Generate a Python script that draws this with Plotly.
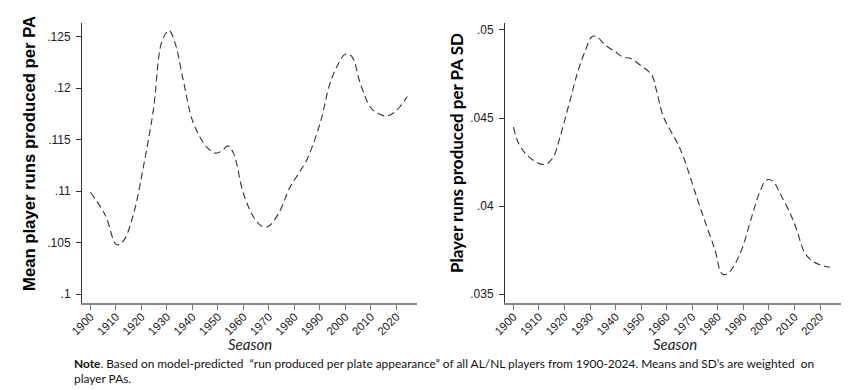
import plotly.graph_objects as go

# ---- data ----
years_mean = [1900, 1905.8, 1910.3, 1913, 1916.9, 1920.8, 1924.7, 1928, 1930.8, 1933.2, 1936.4,
              1940.4, 1945.6, 1948.9, 1951.5, 1953.9, 1956.1, 1960, 1964, 1967.2, 1969.8,
              1973.7, 1978.3, 1981.6, 1984.8, 1990.1, 1994, 1997.3, 1999.9, 2002.5, 2005.8,
              2009.7, 2012.3, 2016.2, 2018.8, 2021.4, 2024.3]
mean_rp = [0.1099, 0.1077, 0.1048, 0.1052, 0.1078, 0.1124, 0.1179, 0.1245, 0.1256, 0.1244, 0.1208,
           0.1166, 0.1143, 0.1137, 0.1139, 0.1144, 0.1137, 0.1098, 0.1075, 0.1066, 0.1066,
           0.1078, 0.1104, 0.1117, 0.1130, 0.1166, 0.1205, 0.1224, 0.1233, 0.1231, 0.1205,
           0.1182, 0.1176, 0.1173, 0.1176, 0.1182, 0.1192]

years_sd = [1900, 1902, 1905.2, 1910.4, 1913, 1915.7, 1918.3, 1922.2, 1925.4, 1928, 1930.7,
            1932.6, 1935.9, 1939.8, 1943, 1945.7, 1949.6, 1954.1, 1956.1, 1958.7, 1963.9,
            1966.5, 1970.4, 1974.3, 1978.9, 1981.5, 1983.5, 1986.1, 1989.3, 1993.3, 1996.5,
            1999.1, 2001.7, 2004.3, 2008.3, 2010.9, 2014.1, 2017.4, 2020, 2023.9]
sd_rp = [0.04448, 0.04357, 0.04291, 0.0424, 0.0424, 0.04281, 0.04395, 0.04603, 0.04773, 0.04877,
         0.04962, 0.04962, 0.04915, 0.04877, 0.04845, 0.04839, 0.04801, 0.04745, 0.0465, 0.04508,
         0.04366, 0.04281, 0.04111, 0.03941, 0.03751, 0.03619, 0.03613, 0.03657, 0.03751, 0.03941,
         0.04083, 0.04149, 0.0414, 0.04073, 0.0396, 0.03865, 0.03733, 0.03685, 0.03667, 0.03653]

x_ticks = [1900, 1910, 1920, 1930, 1940, 1950, 1960, 1970, 1980, 1990, 2000, 2010, 2020]
y1_ticks = [0.1, 0.105, 0.11, 0.115, 0.12, 0.125]
y1_labels = [".1", ".105", ".11", ".115", ".12", ".125"]
y2_ticks = [0.035, 0.04, 0.045, 0.05]
y2_labels = [".035", ".04", ".045", ".05"]

title_left = "Mean player runs produced per PA"
title_right = "Player runs produced per PA SD"
x_title = "Season"
note = ("<b>Note</b>. Based on model-predicted  \u201crun produced per plate appearance\u201d of all AL/NL players "
        "from 1900-2024. Means and SD\u2019s are weighted  on<br>player PAs.")

W, H = 863, 390
def px_x(p): return p / W
def px_y(p): return 1 - p / H

line_style = dict(color="#333333", width=1.1, dash="7px,4px")
fig = go.Figure()
fig.add_trace(go.Scatter(x=years_mean, y=mean_rp, mode="lines", line=line_style,
                         line_shape="spline", xaxis="x", yaxis="y", showlegend=False,
                         hoverinfo="skip"))
fig.add_trace(go.Scatter(x=years_sd, y=sd_rp, mode="lines", line=line_style,
                         line_shape="spline", xaxis="x2", yaxis="y2", showlegend=False,
                         hoverinfo="skip"))

xtickfont = dict(family="Arial, Liberation Sans, sans-serif", size=11.5, color="#222222")
ytickfont = dict(family="Arial, Liberation Sans, sans-serif", size=12, color="#222222")
xcommon = dict(range=[1896.7, 2028.1], tickvals=x_ticks, tickangle=-45, ticks="outside",
               ticklen=5, tickcolor="#777777", tickwidth=1, showline=True, linecolor="#888888",
               linewidth=2, showgrid=False, zeroline=False, tickfont=xtickfont, automargin=False,
               ticklabelstandoff=-4)
ycommon = dict(ticks="outside", ticklen=5, tickcolor="#333333", showline=True,
               linecolor="#333333", linewidth=1, showgrid=False, zeroline=False,
               tickfont=ytickfont, ticklabelstandoff=3, automargin=False)

dom_y = [px_y(302.7), px_y(22.7)]
fig.update_layout(
    template="none",
    width=W, height=H, margin=dict(l=0, r=0, t=0, b=0, pad=0),
    paper_bgcolor="white", plot_bgcolor="white",
    xaxis=dict(domain=[px_x(82), px_x(417)], anchor="y", **xcommon),
    yaxis=dict(domain=dom_y, anchor="x", range=[0.09918, 0.12636],
               tickvals=y1_ticks, ticktext=y1_labels, **ycommon),
    xaxis2=dict(domain=[px_x(505), px_x(840.7)], anchor="y2", **xcommon),
    yaxis2=dict(domain=dom_y, anchor="x2", range=[0.03452, 0.050414],
                tickvals=y2_ticks, ticktext=y2_labels, **ycommon),
)

fig.add_annotation(text="<b>" + title_left + "</b>", x=px_x(30), y=px_y(154), xref="paper", yref="paper",
                   textangle=-90, showarrow=False,
                   font=dict(family="Arial, Liberation Sans, sans-serif", size=16.7, color="black"),
                   xanchor="center", yanchor="middle")
fig.add_annotation(text="<b>" + title_right + "</b>", x=px_x(457), y=px_y(153), xref="paper", yref="paper",
                   textangle=-90, showarrow=False,
                   font=dict(family="Lato, sans-serif", size=17, color="black"),
                   xanchor="center", yanchor="middle")
season_font = dict(family="Lato, sans-serif", size=15, color="#222222")
for xc in (250, 675):
    fig.add_annotation(text="<i>" + x_title + "</i>", x=px_x(xc), y=px_y(344), xref="paper", yref="paper",
                       showarrow=False, font=season_font, xanchor="center", yanchor="middle")
fig.add_annotation(text=note, x=px_x(72), y=px_y(354), xref="paper", yref="paper", showarrow=False,
                   align="left", xanchor="left", yanchor="top",
                   font=dict(family="Lato, sans-serif", size=11.9, color="#111111"))

fig.write_html("out.html", config={"displayModeBar": False},
               post_script="document.body.style.margin='0px';document.body.style.overflow='hidden';")
